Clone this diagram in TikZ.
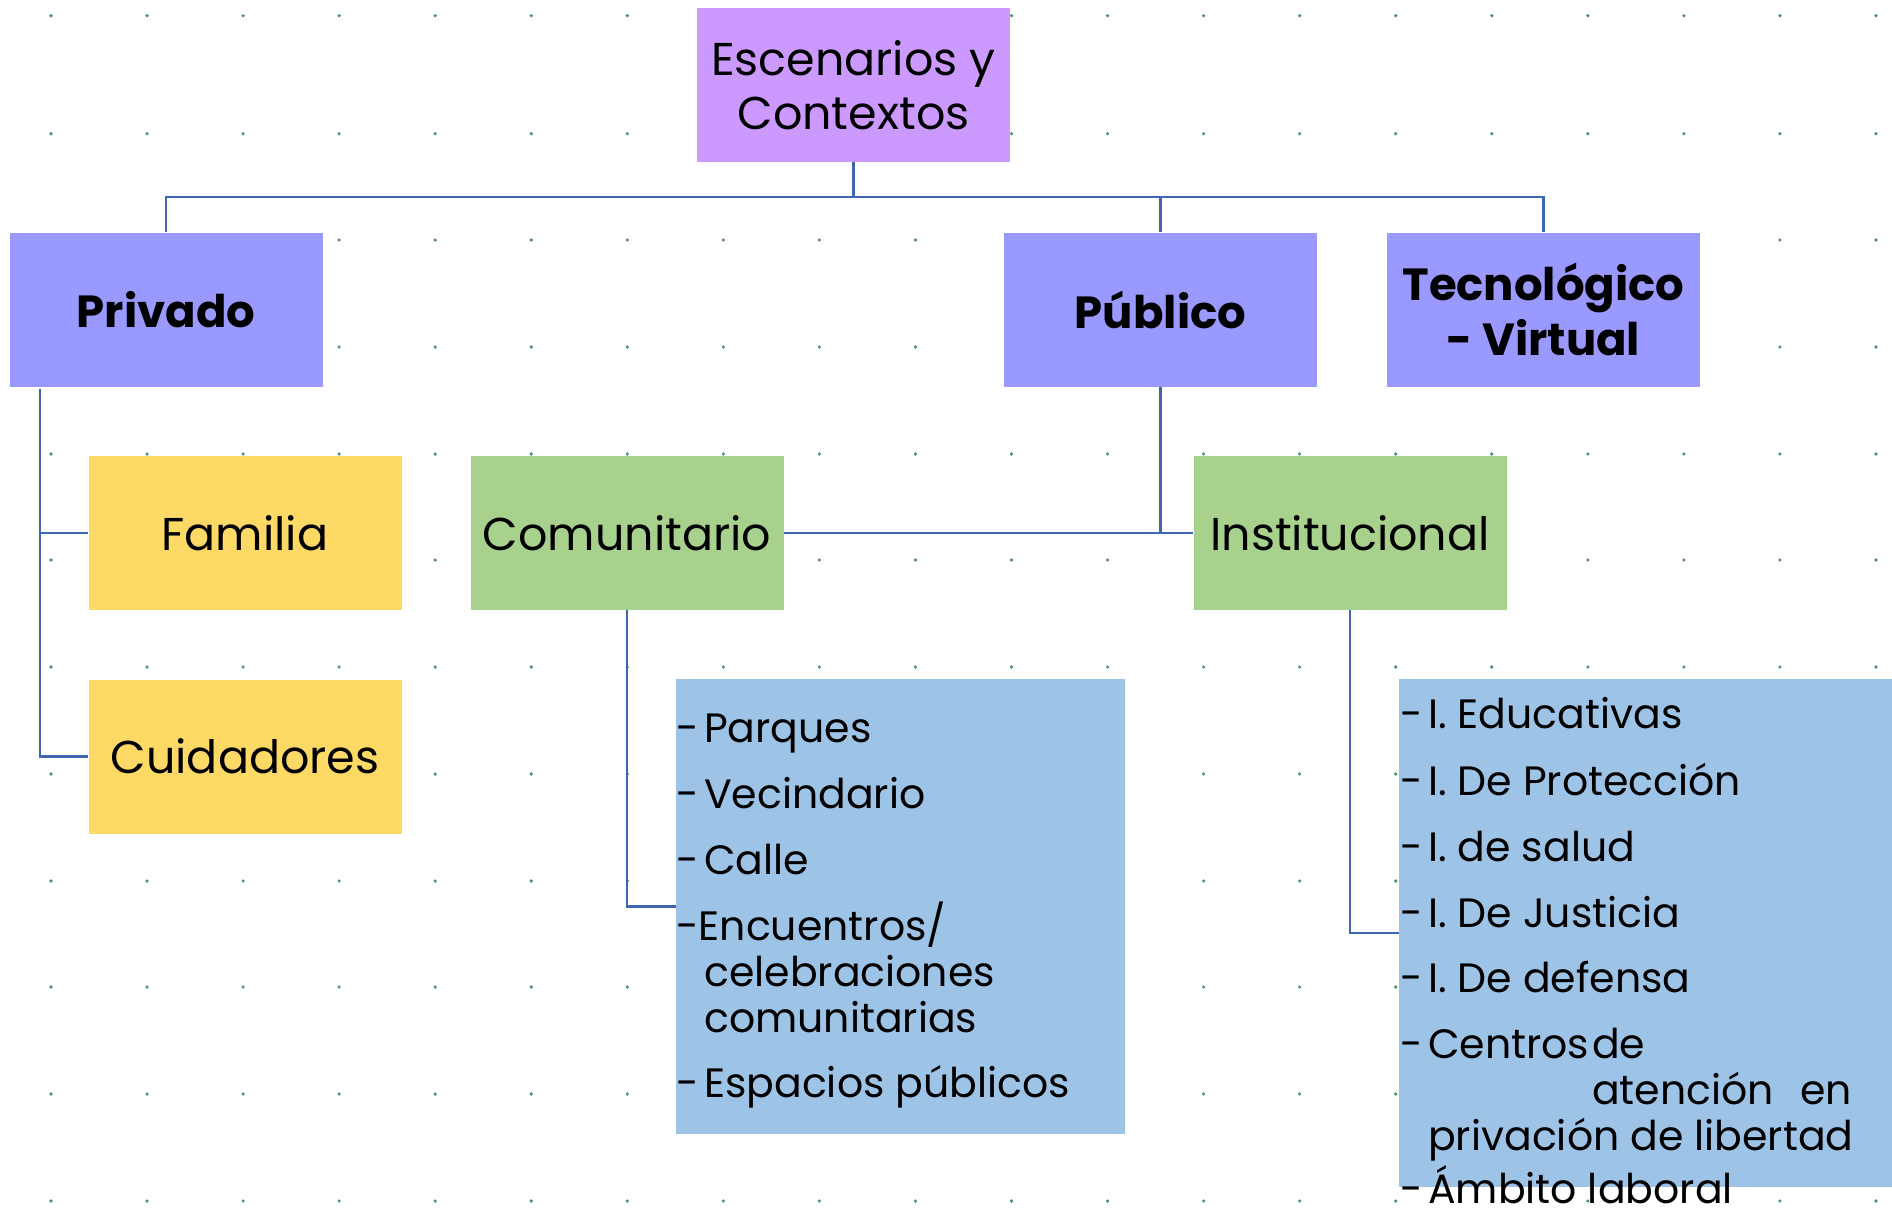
\documentclass[tikz,border=0pt]{standalone}
\usepackage{fontspec}
\setmainfont{Poppins}
\usetikzlibrary{calc}
\definecolor{ctop}{HTML}{CC99FF}
\definecolor{clvl}{HTML}{9999FF}
\definecolor{cyel}{HTML}{FFD966}
\definecolor{cgrn}{HTML}{A9D18E}
\definecolor{cblu}{HTML}{9DC3E6}
\definecolor{cline}{HTML}{3F67B1}
\definecolor{cdot}{HTML}{4F9270}
\begin{document}
\begin{tikzpicture}[x=1pt,y=-1pt,
  box/.style={minimum width=313pt, minimum height=154pt, inner sep=0pt, align=center, font=\fontsize{46}{54}\selectfont},
  toplbl/.style={box, fill=ctop},
  lvlbox/.style={box, fill=clvl, font=\bfseries\fontsize{45}{55}\selectfont},
  yelbox/.style={box, fill=cyel},
  grnbox/.style={box, fill=cgrn},
  listbox/.style={fill=cblu, inner sep=0pt},
  item/.style={anchor=base west, inner sep=0pt, font=\fontsize{41}{46}\selectfont},
  conn/.style={draw=cline, line width=2.6pt}]
\useasboundingbox (0,0) rectangle (1892,1219);
\fill[white] (0,0) rectangle (1892,1219);
% dotted grid
\foreach \yy in {15.7,133.7,240,347,454,560,667,774,881,987,1094,1201}
  \foreach \i in {0,...,19}
    \fill[cdot] ({51+96.05*\i},\yy) circle (1.8pt);
% boxes
\node[toplbl] (top) at (853.5,85) {Escenarios y\\Contextos};
\node[lvlbox] (priv) at (166,309.5) {Privado};
\node[lvlbox] (pub) at (1160.5,309.5) {Público};
\node[lvlbox] (tec) at (1543.5,309.5) {Tecnológico\\- Virtual};
\node[yelbox] (fam) at (245,533) {Familia};
\node[yelbox] (cui) at (245,756.5) {Cuidadores};
\node[grnbox] (com) at (627,533) {Comunitario};
\node[grnbox] (inst) at (1350,533) {Institucional};
\node[listbox, minimum width=449pt, minimum height=455pt] (lb1) at (900.5,906.5) {};
\node[listbox, minimum width=494pt, minimum height=508pt] (lb2) at (1646,933) {};
% connectors
\coordinate (bus) at (853.5,197);
\coordinate (pl) at (40,389);
\draw[conn] (top.south) -- (top.south |- bus);
\draw[conn] (priv.north) |- (tec.north |- bus) -- (tec.north);
\draw[conn] (pub.north) -- (pub.north |- bus);
\draw[conn] (pl) |- (cui.west);
\draw[conn] (pl |- fam.west) -- (fam.west);
\draw[conn] (pub.south) -- (pub.south |- inst.west);
\draw[conn] (com.east) -- (inst.west);
\draw[conn] (com.south) |- (lb1.west);
\draw[conn] (inst.south) |- (lb2.west);
% list 1
\node[item] (a1) at (676,742) {\makebox[28pt][l]{-}Parques};
\node[item] (a2) at (676,808) {\makebox[28pt][l]{-}Vecindario};
\node[item] (a3) at (676,874) {\makebox[28pt][l]{-}Calle};
\node[item] (a4) at (676,940) {-Encuentros/};
\node[item] (a5) at (704,986) {celebraciones};
\node[item] (a6) at (704,1032) {comunitarias};
\node[item] (a7) at (676,1097) {\makebox[28pt][l]{-}Espacios públicos};
% list 2
\node[item] (b1) at (1400,728) {\makebox[28pt][l]{-}I. Educativas};
\node[item] (b2) at (1400,795) {\makebox[28pt][l]{-}I. De Protección};
\node[item] (b3) at (1400,861) {\makebox[28pt][l]{-}I. de salud};
\node[item] (b4) at (1400,927) {\makebox[28pt][l]{-}I. De Justicia};
\node[item] (b5) at (1400,992) {\makebox[28pt][l]{-}I. De defensa};
\node[item] (b6) at (1400,1058) {\makebox[28pt][l]{-}\makebox[164pt][l]{Centros}de};
\node[item] (b7) at (1592,1104) {\makebox[260pt][l]{atención\hfill en}};
\node[item] (b8) at (1428,1150) {privación de libertad};
\node[item] (b9) at (1400,1203) {\makebox[28pt][l]{-}Ámbito laboral};
\end{tikzpicture}
\end{document}
